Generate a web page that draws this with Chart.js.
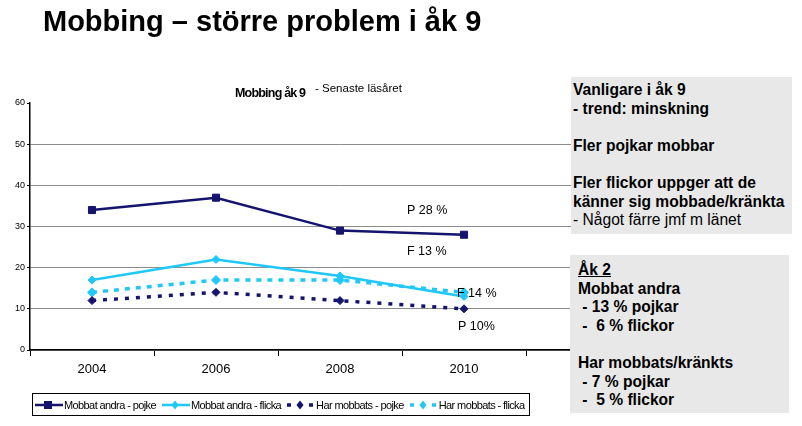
<!DOCTYPE html>
<html>
<head>
<meta charset="utf-8">
<script src="https://cdn.jsdelivr.net/npm/chart.js@4/dist/chart.umd.min.js"></script>
<style>
  body { margin: 0; background: #fff; font-family: "Liberation Sans", Arial, sans-serif; }
  #wrap { position: relative; width: 802px; height: 426px; overflow: hidden; }
  #chart { position: absolute; left: 0; top: 0; }
  h1 { position: absolute; left: 43px; top: 5px; margin: 0; font-size: 29px; font-weight: bold; white-space: nowrap; }
  .box { position: absolute; background: #e8e8e8; font-size: 15.6px; color: #000; white-space: nowrap; }
  .box div { height: 18.6px; line-height: 18.6px; }
  .b { font-weight: bold; }
  #legend { position: absolute; left: 32px; top: 393px; width: 496px; height: 21px; border: 1px solid #000;
            display: flex; align-items: center; font-family: "Liberation Sans Narrow", Arial, sans-serif;
            font-size: 11px; letter-spacing: -0.6px; }
  #legend span.item { display: flex; align-items: center; margin-right: 4px; }
  #legend canvas { margin-right: 1px; }
</style>
</head>
<body>
<div id="wrap">
  <canvas id="chart" width="802" height="426"></canvas>
  <h1>Mobbing – större problem i åk 9</h1>
  <div class="box" style="left:571px; top:77px; width:221px; height:157px; padding-top:4px; box-sizing:border-box; padding-left:2px;">
    <div class="b">Vanligare i åk 9</div>
    <div class="b">- trend: minskning</div>
    <div></div>
    <div class="b">Fler pojkar mobbar</div>
    <div></div>
    <div class="b">Fler flickor uppger att de</div>
    <div class="b">känner sig mobbade/kränkta</div>
    <div>- Något färre jmf m länet</div>
  </div>
  <div class="box" style="left:570px; top:255px; width:219px; height:158px; padding-top:6px; box-sizing:border-box; padding-left:8px;">
    <div class="b" style="text-decoration:underline;">Åk 2</div>
    <div class="b">Mobbat andra</div>
    <div class="b">&nbsp;- 13 % pojkar</div>
    <div class="b">&nbsp;-&nbsp; 6 % flickor</div>
    <div></div>
    <div class="b">Har mobbats/kränkts</div>
    <div class="b">&nbsp;- 7 % pojkar</div>
    <div class="b">&nbsp;-&nbsp; 5 % flickor</div>
  </div>
  <div id="legend"></div>
</div>
<script>
// data
const years = ['2004', '2006', '2008', '2010'];
const mobbatPojke = [34, 37, 29, 28];
const mobbatFlicka = [17, 22, 18, 13];
const harPojke = [12, 14, 12, 10];
const harFlicka = [14, 17, 17, 14];
const yTicks = [0, 10, 20, 30, 40, 50, 60];

const navy = '#14146e';
const cyan = '#20c8f8';

// labels next to the 2010 points: [text, category index, value, dx]
const notes = [
  ['P 28 %', 3, 33.8, -57],
  ['F 13 %', 3, 24, -57],
  ['F 14 %', 3, 13.6, -7],
  ['P 10%', 3, 5.6, -6]
];

const series = [
  { label: 'Mobbat andra - pojke', data: mobbatPojke, color: navy, dash: [], width: 2.5, style: 'rect', r: 5 },
  { label: 'Mobbat andra - flicka', data: mobbatFlicka, color: cyan, dash: [], width: 2.5, style: 'rectRot', r: 4 },
  { label: 'Har mobbats - pojke', data: harPojke, color: navy, dash: [4, 7], width: 3.5, style: 'rectRot', r: 4 },
  { label: 'Har mobbats - flicka', data: harFlicka, color: cyan, dash: [5, 6], width: 3.5, style: 'rectRot', r: 4.5 }
];

const notesPlugin = {
  id: 'notes',
  afterDraw(chart) {
    const ctx = chart.ctx;
    const x = chart.scales.x, y = chart.scales.y;
    ctx.save();
    ctx.fillStyle = '#000';
    ctx.font = '12.5px "Liberation Sans", Arial, sans-serif';
    ctx.textBaseline = 'middle';
    notes.forEach(n => {
      ctx.fillText(n[0], x.getPixelForValue(n[1]) + n[3], y.getPixelForValue(n[2]));
    });
    // chart title
    ctx.font = 'bold 12.5px "Liberation Sans Narrow", Arial, sans-serif';
    ctx.letterSpacing = '-0.8px';
    ctx.fillText('Mobbing åk 9', 235, 94);
    ctx.letterSpacing = '0px';
    ctx.font = '11.5px "Liberation Sans", Arial, sans-serif';
    ctx.fillText('- Senaste läsåret', 315, 89);
    ctx.restore();
  }
};

new Chart(document.getElementById('chart'), {
  type: 'line',
  data: {
    labels: [...years, ''],
    datasets: series.map(s => ({
      label: s.label,
      data: s.data,
      borderColor: s.color,
      backgroundColor: s.color,
      borderWidth: s.width,
      borderDash: s.dash,
      pointStyle: s.style,
      pointRadius: s.r,
      pointHoverRadius: s.r,
      pointBorderWidth: 1,
      tension: 0
    }))
  },
  options: {
    responsive: false,
    animation: false,
    layout: { padding: { top: 103, right: 152, bottom: 36, left: 0 } },
    plugins: { legend: { display: false }, tooltip: { enabled: false } },
    scales: {
      x: {
        offset: true,
        afterFit: s => { s.height = 40; },
        grid: { drawOnChartArea: false, tickLength: 6, color: '#000', offset: true },
        border: { color: '#000', width: 1.5 },
        ticks: { color: '#000', font: { family: '"Liberation Sans Narrow", Arial', size: 13 }, padding: 6 }
      },
      y: {
        min: 0, max: 60,
        afterFit: s => { s.width = 30; },
        afterBuildTicks: s => { s.ticks = yTicks.map(v => ({ value: v })); },
        grid: {
          color: c => (c.tick && c.tick.value === 60 ? 'rgba(0,0,0,0)' : '#8c8c8c'),
          tickColor: '#000', lineWidth: 1, tickLength: 3
        },
        border: { color: '#000', width: 1.5 },
        ticks: { color: '#000', font: { family: '"Liberation Sans Narrow", Arial', size: 9 }, padding: 2 }
      }
    }
  },
  plugins: [notesPlugin]
});

// legend
const legend = document.getElementById('legend');
series.forEach(s => {
  const item = document.createElement('span');
  item.className = 'item';
  const c = document.createElement('canvas');
  c.width = 30; c.height = 12;
  const g = c.getContext('2d');
  g.strokeStyle = s.color; g.fillStyle = s.color;
  g.lineWidth = s.dash.length ? 3.5 : 2.5;
  g.setLineDash(s.dash.length ? [4, 7] : []);
  g.beginPath(); g.moveTo(2, 6); g.lineTo(30, 6); g.stroke();
  g.beginPath();
  if (s.style === 'rect') { g.rect(11, 2, 8, 8); }
  else { g.moveTo(15, 1.5); g.lineTo(18.5, 6); g.lineTo(15, 10.5); g.lineTo(11.5, 6); g.closePath(); }
  g.fill();
  item.appendChild(c);
  item.appendChild(document.createTextNode(s.label));
  legend.appendChild(item);
});
</script>
</body>
</html>
